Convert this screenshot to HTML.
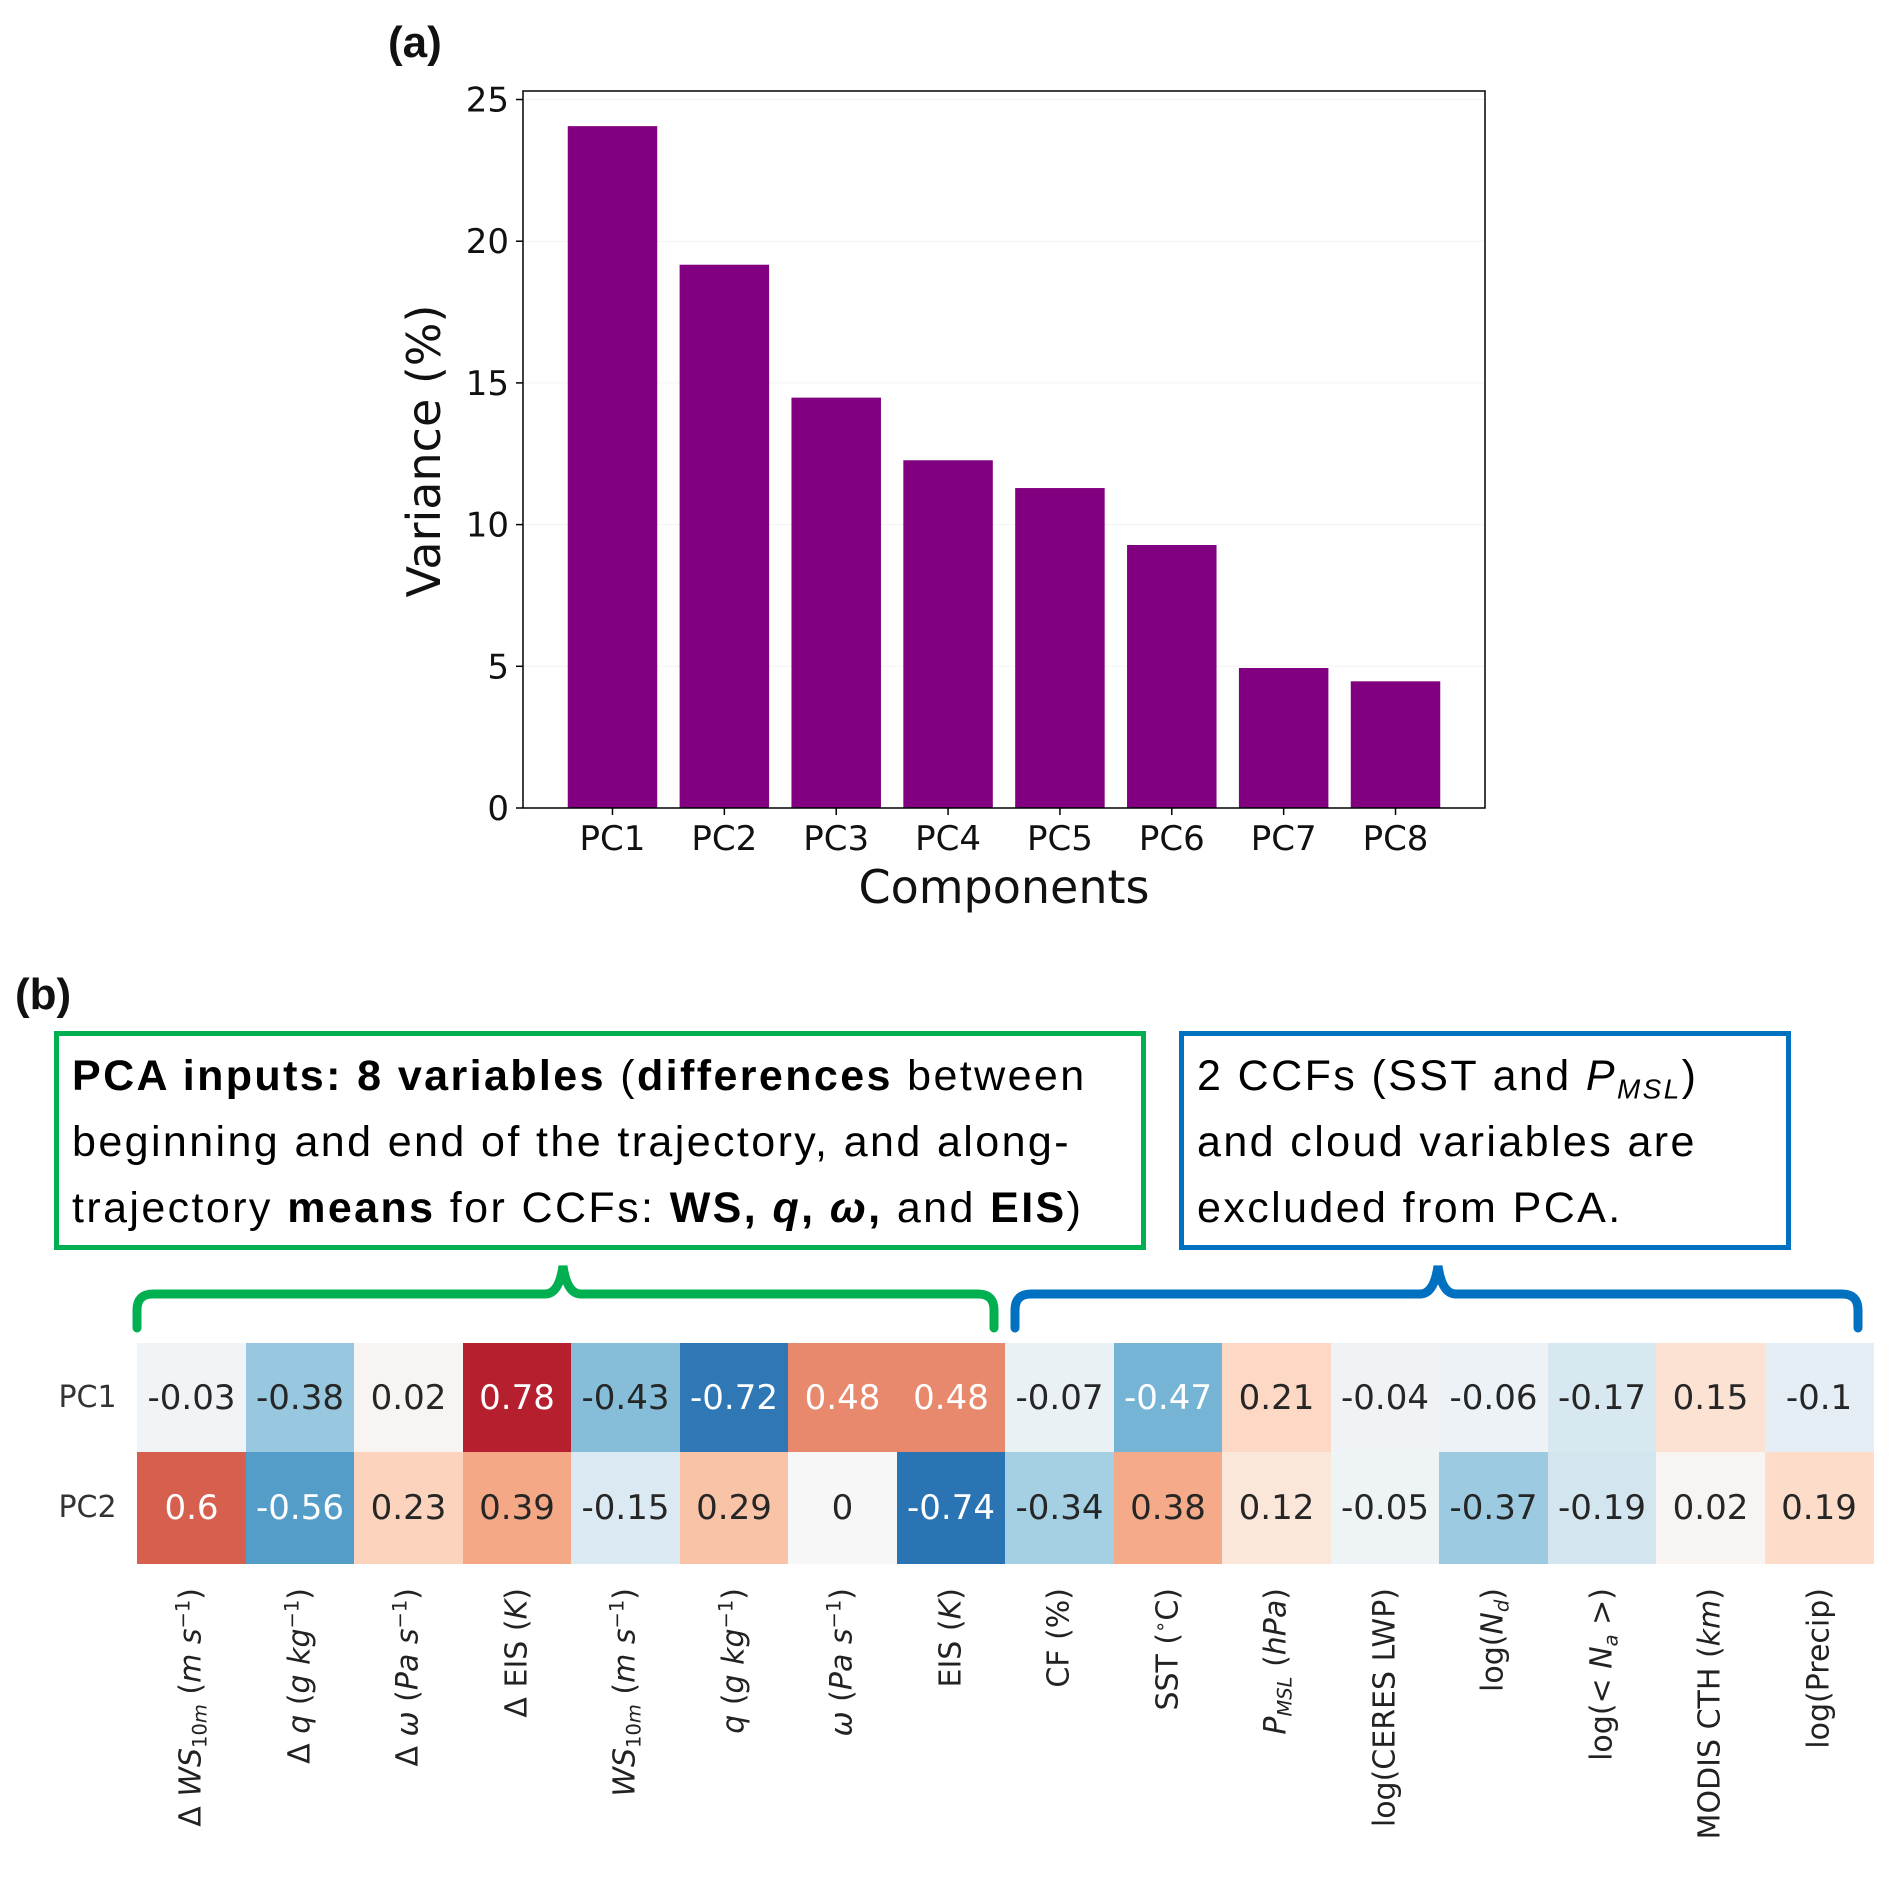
<!DOCTYPE html>
<html><head><meta charset="utf-8">
<style>
body{margin:0;background:#fff;}
#root{position:relative;width:1892px;height:1878px;overflow:hidden;font-family:"Liberation Sans","DejaVu Sans",sans-serif;color:#111;}
.abs{position:absolute;}
.box{position:absolute;box-sizing:border-box;border:5px solid;}
.boxtext{position:absolute;font-size:43px;line-height:66px;letter-spacing:2.4px;white-space:nowrap;color:#000;}
.boxtext sub{line-height:0;}
.xl{position:absolute;white-space:nowrap;font-family:"DejaVu Sans",sans-serif;font-size:30px;color:#222;transform-origin:0 0;transform:rotate(-90deg) translate(-100%,-50%);}
.cell{position:absolute;display:flex;align-items:center;justify-content:center;font-family:"DejaVu Sans",sans-serif;font-size:34px;}
sub{font-size:65%;vertical-align:-0.3em;line-height:0;}
sup{font-size:65%;line-height:0;}
</style></head>
<body>
<div id="root">
<div class="abs" style="left:388px;top:18px;font-size:44px;font-weight:bold;">(a)</div>
<svg id="bar" class="abs" style="left:0;top:0" width="1892" height="960"></svg>
<div class="abs" style="left:15px;top:970px;font-size:44px;font-weight:bold;">(b)</div>

<div class="box" style="left:54px;top:1031px;width:1092px;height:219px;border-color:#00b050;"></div>
<div class="boxtext" style="left:72px;top:1043px;">
<b>PCA inputs: 8 variables</b> (<b>differences</b> between<br>beginning and end of the trajectory, and along-<br>trajectory <b>means</b> for CCFs: <b>WS, <i>q</i>, <i>ω</i>,</b> and <b>EIS</b>)</div>
<div class="box" style="left:1179px;top:1031px;width:612px;height:219px;border-color:#0070c0;"></div>
<div class="boxtext" style="left:1197px;top:1043px;">
2 CCFs (SST and <i>P<sub>MSL</sub></i>)<br>and cloud variables are<br>excluded from PCA.</div>

<svg class="abs" style="left:0;top:1254px" width="1892" height="90">
<path d="M137,74 L137,56 Q137,40 153,40 L545,40 Q559,40 563,12 Q567,40 581,40 L978,40 Q994,40 994,56 L994,74" fill="none" stroke="#00b050" stroke-width="9" stroke-linecap="round"/>
<path d="M1015,74 L1015,56 Q1015,40 1031,40 L1420,40 Q1434,40 1438,12 Q1442,40 1456,40 L1842,40 Q1858,40 1858,56 L1858,74" fill="none" stroke="#0070c0" stroke-width="9" stroke-linecap="round"/>
</svg>
<div id="heat"></div>

<script>
const barCats=["PC1","PC2","PC3","PC4","PC5","PC6","PC7","PC8"];
const barVals=[24.06,19.17,14.48,12.27,11.29,9.28,4.94,4.47];
const yTicks=[0,5,10,15,20,25];

const heatRows=["PC1","PC2"];
const heatCols=["Δ <i>WS</i><sub>10<i>m</i></sub> (<i>m s</i><sup>−1</sup>)","Δ <i>q</i> (<i>g kg</i><sup>−1</sup>)","Δ <i>ω</i> (<i>Pa s</i><sup>−1</sup>)","Δ EIS (<i>K</i>)","<i>WS</i><sub>10<i>m</i></sub> (<i>m s</i><sup>−1</sup>)","<i>q</i> (<i>g kg</i><sup>−1</sup>)","<i>ω</i> (<i>Pa s</i><sup>−1</sup>)","EIS (<i>K</i>)","CF (%)","SST (<sup>∘</sup>C)","<i>P<sub>MSL</sub></i> (<i>hPa</i>)","log(CERES LWP)","log(<i>N<sub>d</sub></i>)","log(&lt; <i>N<sub>a</sub></i> &gt;)","MODIS CTH (<i>km</i>)","log(Precip)"];
const pc1Vals=[-0.03,-0.38,0.02,0.78,-0.43,-0.72,0.48,0.48,-0.07,-0.47,0.21,-0.04,-0.06,-0.17,0.15,-0.1];
const pc2Vals=[0.6,-0.56,0.23,0.39,-0.15,0.29,0,-0.74,-0.34,0.38,0.12,-0.05,-0.37,-0.19,0.02,0.19];

const NS="http://www.w3.org/2000/svg";
const svg=document.getElementById('bar');
const PL=523,PR=1485,PT=91,PB=808,YMAX=25.3;
const pitch=(PR-PL)/8.6;
function xs(i){return PL+(i+0.8)*pitch;}
function ys(v){return PB-(v/YMAX)*(PB-PT);}
function mk(t,a){const e=document.createElementNS(NS,t);for(const k in a)e.setAttribute(k,a[k]);svg.appendChild(e);return e;}
yTicks.forEach(t=>{
  const g=mk('line',{x1:PL,x2:PR,y1:ys(t),y2:ys(t),stroke:'#f2f2f2','stroke-width':1});
  
  
});
barVals.forEach((v,i)=>{
  const r=mk('rect',{x:xs(i)-pitch*0.4,y:ys(v),width:pitch*0.8,height:PB-ys(v),fill:'#800080'});
  
  
  const tk=mk('line',{x1:xs(i),x2:xs(i),y1:PB,y2:PB+7,stroke:'#000','stroke-width':1.5});
  
  
  const tl=mk('text',{x:xs(i),y:PB+42,'text-anchor':'middle','font-size':34,'font-family':'DejaVu Sans, sans-serif',fill:'#111'});
  tl.textContent=barCats[i];
  
  
});
yTicks.forEach(t=>{
  const tk=mk('line',{x1:PL-7,x2:PL,y1:ys(t),y2:ys(t),stroke:'#000','stroke-width':1.5});
  
  
  const tl=mk('text',{x:PL-14,y:ys(t)+12,'text-anchor':'end','font-size':34,'font-family':'DejaVu Sans, sans-serif',fill:'#111'});
  tl.textContent=t;
  
  
});
const fr=mk('rect',{x:PL,y:PT,width:PR-PL,height:PB-PT,fill:'none',stroke:'#000','stroke-width':1.5});


const yt=mk('text',{x:0,y:0,transform:'translate(440,451) rotate(-90)','text-anchor':'middle','font-size':46,'font-family':'DejaVu Sans, sans-serif',fill:'#111'});
yt.textContent='Variance (%)';


const xt=mk('text',{x:1004,y:903,'text-anchor':'middle','font-size':46,'font-family':'DejaVu Sans, sans-serif',fill:'#111'});
xt.textContent='Components';



// heatmap
const stops=[[-1,[5,48,97]],[-0.8,[33,102,172]],[-0.6,[67,147,195]],[-0.4,[146,197,222]],[-0.2,[209,229,240]],[0,[247,247,247]],[0.2,[253,219,199]],[0.4,[244,165,130]],[0.6,[214,96,77]],[0.8,[178,24,43]],[1,[103,0,31]]];
function cmap(v){for(let i=0;i<stops.length-1;i++){const a=stops[i],b=stops[i+1];if(v<=b[0]){const t=(v-a[0])/(b[0]-a[0]);const c=a[1].map((x,k)=>Math.round(x+(b[1][k]-x)*t));return 'rgb('+c.join(',')+')';}}return 'rgb(103,0,31)';}
const heat=document.getElementById('heat');
const HX=137,HY=1343,CW=(1873-137)/16,CH=[109,112];
const rowsData=[pc1Vals,pc2Vals];
rowsData.forEach((vals,r)=>{
  const top=HY+(r===0?0:CH[0]);
  const lab=document.createElement('div');
  lab.className='abs';
  
  
  lab.style.cssText='left:50px;width:75px;text-align:center;font-family:"DejaVu Sans",sans-serif;font-size:30px;color:#333;top:'+(top+CH[r]/2-18)+'px';
  lab.textContent=heatRows[r];
  heat.appendChild(lab);
  vals.forEach((v,c)=>{
    const d=document.createElement('div');
    d.className='cell';
    
    
    d.style.left=(HX+c*CW)+'px';d.style.top=top+'px';d.style.width=(CW+0.5)+'px';d.style.height=CH[r]+'px';
    d.style.background=cmap(v);
    d.style.color=Math.abs(v)>0.45?'#fff':'#262626';
    d.textContent=String(v);
    heat.appendChild(d);
  });
});
heatCols.forEach((h,c)=>{
  const d=document.createElement('div');
  d.className='xl';
  
  
  d.style.left=(HX+(c+0.5)*CW)+'px';d.style.top='1588px';
  d.innerHTML=h;
  heat.appendChild(d);
});
</script>
</div>
</body></html>
